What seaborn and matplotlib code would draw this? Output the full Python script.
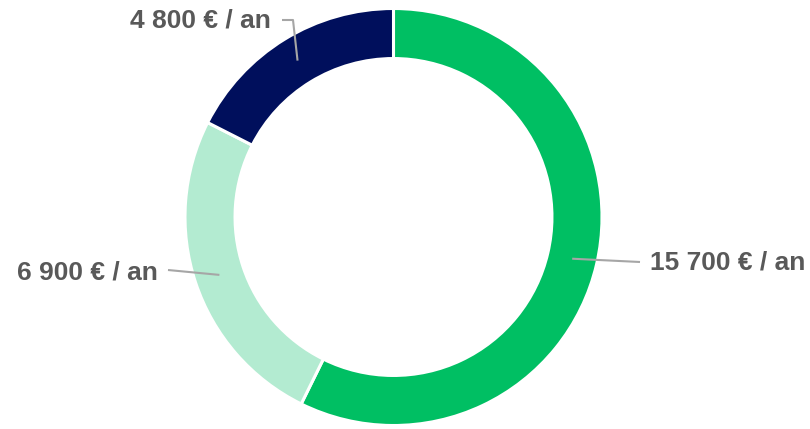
import numpy as np
import matplotlib
matplotlib.use("Agg")
import matplotlib.pyplot as plt
import seaborn as sns

# data
labels = ["15 700 € / an", "6 900 € / an", "4 800 € / an"]
values = [15700, 6900, 4800]
colors = ["#00BF63", "#B3EBD1", "#000F5C"]

sns.set_theme(style="white")
plt.rcParams['font.family'] = ['Liberation Sans', 'DejaVu Sans']

fig = plt.figure(figsize=(8.1, 4.29), dpi=100)
ax = fig.add_axes([0, 0, 1, 1])
ax.set_facecolor("white")

wedges, _ = ax.pie(values, colors=colors, startangle=90, counterclock=False,
                   radius=1.0, wedgeprops=dict(width=0.24, edgecolor="white", linewidth=2.2))

# pixel-based limits: center (393.5, 217), radius 208.5 px
r = 208.5
ax.set_xlim(-393.5 / r, (810 - 393.5) / r)
ax.set_ylim(-(429 - 217) / r, 217 / r)
ax.set_aspect("auto")
ax.axis("off")

def px(x, y):
    return ((x - 393.5) / r, -(y - 217) / r)

# leader lines (paths after the wedge midpoint) and label positions
paths = [
    [px(640, 262)],
    [px(168, 270)],
    [px(293, 20), px(282, 20)],
]
text_pos = [(px(650, 263), "left"), (px(158, 272), "right"), (px(271, 21), "right")]

mid_r = 1.0 - 0.12
for w, lab, pth, (tp, ha) in zip(wedges, labels, paths, text_pos):
    ang = np.deg2rad((w.theta1 + w.theta2) / 2)
    start = (mid_r * np.cos(ang), mid_r * np.sin(ang))
    pts = [start] + pth
    xs, ys = zip(*pts)
    ax.plot(xs, ys, color="#A6A6A6", lw=1.5, solid_capstyle="butt", zorder=3)
    ax.text(tp[0], tp[1], lab, ha=ha, va="center", fontsize=19,
            fontweight="bold", color="#595959")

fig.savefig("out.png", dpi=100, facecolor="white")
